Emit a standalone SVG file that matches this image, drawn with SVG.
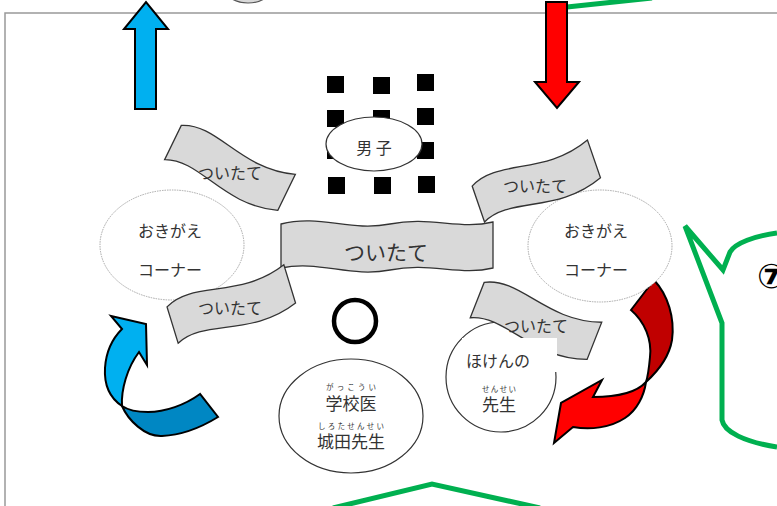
<svg xmlns="http://www.w3.org/2000/svg" width="777" height="506" viewBox="0 0 777 506">
<style>
.jp{font-family:"Noto Sans CJK JP","Liberation Sans",sans-serif;fill:#333;text-anchor:middle}
.ban{fill:#D9D9D9;stroke:#333;stroke-width:1.3}
.sq{fill:#000}
.dot{fill:#fff;stroke:#A6A6A6;stroke-width:1;stroke-dasharray:1.5 1}
.ell{fill:#fff;stroke:#333;stroke-width:1.2}
.grn{fill:none;stroke:#00B050;stroke-width:5;stroke-linejoin:miter}
.blk{stroke:#000;stroke-width:2;stroke-linejoin:miter}
</style>
<defs>
<path id="wave" d="M-62,-16 C-30,-34 10,-2 62,-22 L62,18 C10,38 -30,6 -62,22 Z"/>
</defs>
<rect width="777" height="506" fill="#fff"/>
<g id="frame"><path d="M5,506 L5,13 L777,13" fill="none" stroke="#999" stroke-width="1.5"/></g>
<g id="top-ellipse"><ellipse cx="248" cy="-10" rx="22" ry="13" fill="#D9D9D9" stroke="#555" stroke-width="1.2"/></g>
<g id="callouts">
<path class="grn" d="M567,7 L652,-2"/>
<path class="grn" d="M777,233 C755,236 735,243 730,252 L723,270 L685,226 L722,323 L722,420 C724,432 745,442 777,447"/>
<path class="grn" d="M333,508 L432,484 L540,508"/>
<text x="757" y="288" font-family="'DejaVu Sans',sans-serif" font-weight="bold" font-size="34" fill="#000">⑦</text>
</g>
<g id="connectors">
<path class="blk" fill="#00B0F0" d="M135,109 L135,29 L124,29 L146,2 L168,29 L156,29 L156,109 Z"/>
<path class="blk" fill="#FF0000" d="M546,2 L567,2 L567,82 L579,82 L557,108 L535,82 L546,82 Z"/>
<path class="blk" fill="#0087C3" d="M122,406 C128,420 145,437 162,436 C185,435 205,425 218,417 L200,394 C185,405 165,412 148,412 C138,412 128,410 122,406 Z"/>
<path class="blk" fill="#00B0F0" d="M111,316 L146,324 L147,365 L139,352 C127,368 121,390 122,406 C110,398 104,385 105,368 C106,352 113,338 122,329 Z"/>
<path class="blk" fill="#C00000" d="M654,280 L631,310 C645,322 652,340 650,357 C649,368 648,376 646,382 C657,372 669,358 672,340 C675,318 668,295 654,280 Z"/>
<path class="blk" fill="#FF0000" d="M646,382 C637,392 620,397 593,397 L602,380 L561,403 L554,443 L573,427 C590,430 610,428 625,418 C637,410 644,396 646,382 Z"/>
</g>
<g id="seats">
<rect class="sq" x="327" y="76" width="17" height="17"/><rect class="sq" x="373" y="77" width="17" height="17"/><rect class="sq" x="417" y="74" width="17" height="17"/>
<rect class="sq" x="327" y="110" width="17" height="17"/><rect class="sq" x="373" y="110" width="17" height="17"/><rect class="sq" x="417" y="108" width="17" height="17"/>
<rect class="sq" x="327" y="142" width="17" height="17"/><rect class="sq" x="373" y="142" width="17" height="17"/><rect class="sq" x="417" y="142" width="17" height="17"/>
<rect class="sq" x="328" y="177" width="17" height="17"/><rect class="sq" x="374" y="177" width="17" height="17"/><rect class="sq" x="418" y="176" width="17" height="17"/>
</g>
<g id="boys"><ellipse class="ell" cx="374" cy="144" rx="48" ry="27"/><text class="jp" x="374" y="154" font-size="16">男 子</text></g>
<g id="dressing-left"><ellipse class="dot" cx="172" cy="245" rx="72" ry="55"/><text class="jp" x="170" y="237" font-size="16">おきがえ</text><text class="jp" x="170" y="276" font-size="16">コーナー</text></g>
<g id="dressing-right"><ellipse class="dot" cx="600" cy="246" rx="72" ry="56"/><text class="jp" x="596" y="237" font-size="16">おきがえ</text><text class="jp" x="596" y="276" font-size="16">コーナー</text></g>
<g id="screen-main"><path class="ban" d="M281,224 C320,214 350,232 390,224 C430,216 460,230 493,222 L493,268 C460,276 430,262 390,270 C350,278 320,260 281,268 Z"/><text class="jp" x="386" y="260" font-size="21">ついたて</text></g>
<g id="screen-tl"><use href="#wave" class="ban" transform="translate(230,167) rotate(26)"/><text class="jp" x="230" y="179" font-size="16">ついたて</text></g>
<g id="screen-bl"><use href="#wave" class="ban" transform="translate(231,304) rotate(-17)"/><text class="jp" x="230" y="314" font-size="16">ついたて</text></g>
<g id="screen-tr"><use href="#wave" class="ban" transform="translate(536,181) rotate(-19)"/><text class="jp" x="535" y="192" font-size="16">ついたて</text></g>
<g id="ring"><circle cx="355" cy="321" r="21" fill="none" stroke="#000" stroke-width="4.5"/></g>
<g id="nurse"><circle class="ell" cx="501" cy="377" r="55"/></g>
<g id="screen-br"><use href="#wave" class="ban" transform="translate(536,320) rotate(21.5)"/><text class="jp" x="536" y="332" font-size="16">ついたて</text></g>
<g id="nurse-label"><rect x="462" y="338" width="95" height="34" fill="#fff"/>
<text class="jp" x="498" y="367" font-size="16">ほけんの</text>
<text class="jp" x="499" y="392" font-size="7.5" textLength="34" lengthAdjust="spacing">せんせい</text>
<text class="jp" x="499" y="411" font-size="17">先生</text></g>
<g id="doctor"><ellipse class="ell" cx="351" cy="416" rx="72" ry="57"/>
<text class="jp" x="351" y="390" font-size="7.5" textLength="50" lengthAdjust="spacing">がっこうい</text>
<text class="jp" x="351" y="410" font-size="17">学校医</text>
<text class="jp" x="351" y="429" font-size="7.5" textLength="66" lengthAdjust="spacing">しろたせんせい</text>
<text class="jp" x="351" y="448" font-size="17">城田先生</text></g>
</svg>
